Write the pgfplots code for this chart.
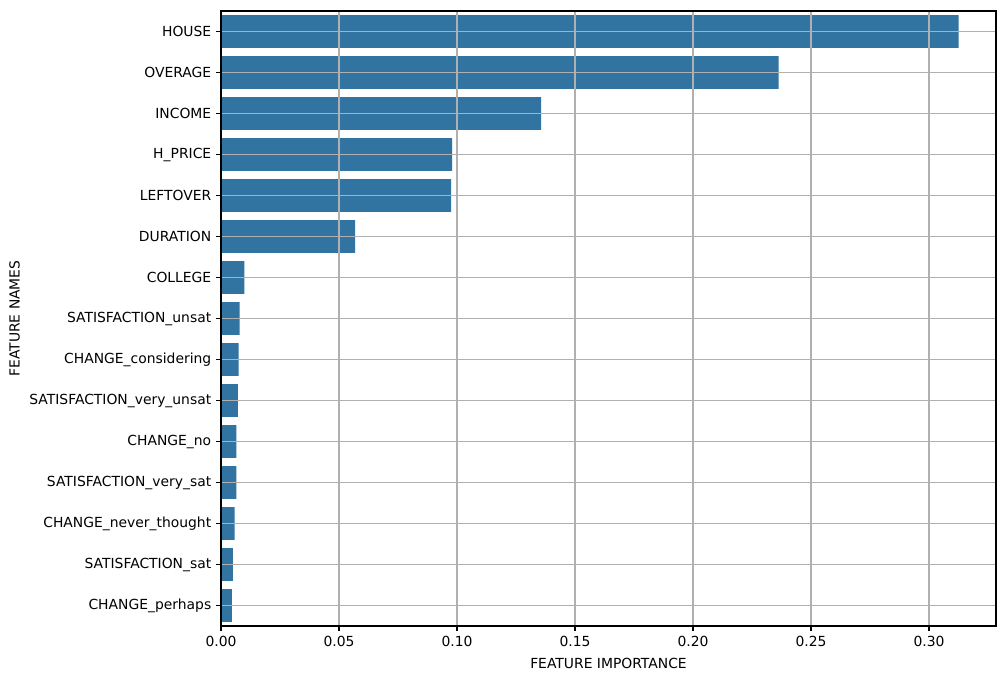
\documentclass[border=0pt]{standalone}
\usepackage{fontspec}
\setmainfont{DejaVu Sans}
\usepackage{pgfplots}
\pgfplotsset{compat=1.18}
\definecolor{barblue}{HTML}{3274A1}
\definecolor{gridgray}{HTML}{B0B0B0}
\begin{document}
\begin{tikzpicture}
  \path[use as bounding box, fill=white] (-159.12pt,-38.16pt) rectangle (564.48pt,450.72pt);
  \begin{axis}[
      at={(0,0)}, anchor=south west,
      scale only axis,
      width=558pt, height=442.8pt,
      xbar, bar width=0.8,
      y dir=reverse,
      xmin=0, xmax=0.3284,
      ymin=-0.5, ymax=14.5,
      xtick={0,0.05,...,0.30},
      ytick={0,...,14},
      yticklabels={HOUSE,OVERAGE,INCOME,H\_PRICE,LEFTOVER,DURATION,COLLEGE,
        SATISFACTION\_unsat,CHANGE\_considering,SATISFACTION\_very\_unsat,
        CHANGE\_no,SATISFACTION\_very\_sat,CHANGE\_never\_thought,
        SATISFACTION\_sat,CHANGE\_perhaps},
      /pgf/number format/assume math mode=true,
      xticklabel style={/pgf/number format/.cd,fixed,fixed zerofill,precision=2},
      scaled x ticks=false,
      tick align=outside,
      tick pos=left,
      major tick length=3.5pt,
      tick style={black, line width=0.8pt},
      axis line style={line width=0.8pt},
      grid=major,
      major grid style={gridgray, line width=0.8pt},
      axis on top,
      xlabel={FEATURE IMPORTANCE},
      ylabel={FEATURE NAMES},
      xlabel style={at={(axis description cs:0.5,0)}, anchor=north, yshift=-20pt},
      ylabel style={at={(axis description cs:0,0.5)}, anchor=south, xshift=0pt},
      every axis y label/.append style={at={(ticklabel cs:0.5)}},
      font=\fontsize{10}{12}\selectfont,
      tick label style={font=\fontsize{10}{12}\selectfont},
    ]
    \addplot[fill=barblue, draw=none] coordinates {
      (0.3126,0) (0.2363,1) (0.1356,2) (0.0979,3) (0.0975,4)
      (0.0568,5) (0.0099,6) (0.0079,7) (0.0075,8) (0.0071,9)
      (0.0065,10) (0.0065,11) (0.0058,12) (0.0050,13) (0.0046,14)
    };
  \end{axis}
\end{tikzpicture}
\end{document}
